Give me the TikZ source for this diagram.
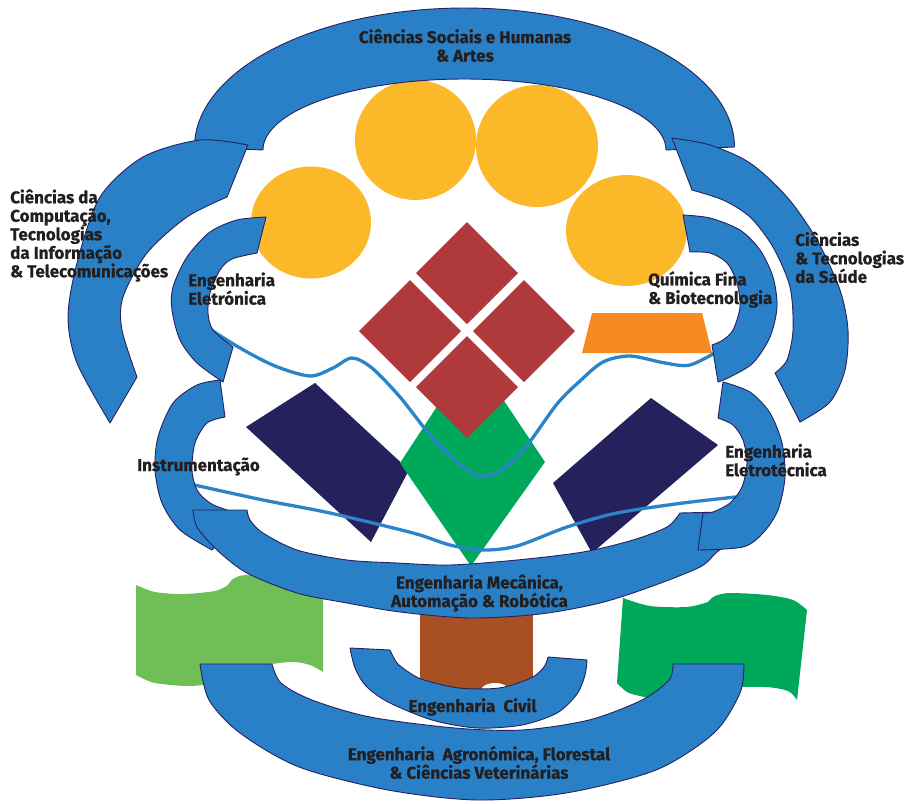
\documentclass[tikz,border=0pt]{standalone}
\usepackage{fontspec}
\setmainfont{Fira Sans}[BoldFeatures={FakeBold=0.6}]

\definecolor{bandblue}{RGB}{41,128,198}
\definecolor{bandline}{RGB}{38,34,98}
\definecolor{sun}{RGB}{251,184,41}
\definecolor{brick}{RGB}{176,57,60}
\definecolor{nightblue}{RGB}{37,33,93}
\definecolor{leaf}{RGB}{0,168,90}
\definecolor{fresh}{RGB}{111,190,86}
\definecolor{amber}{RGB}{246,139,31}
\definecolor{clay}{RGB}{168,79,35}
\definecolor{txt}{RGB}{35,31,32}
\definecolor{wavecol}{RGB}{43,132,199}

\newcommand\lblfont{\fontsize{17}{18.5}\selectfont\bfseries}

\tikzset{
  band/.style={fill=bandblue, draw=bandline, line width=0.9pt, line join=round},
  waveline/.style={draw=wavecol, line width=3.3pt, line cap=round},
  lbl/.style={font=\lblfont, text=txt, inner sep=0pt},
}

\begin{document}
\begin{tikzpicture}[x=1pt, y=-1pt]
\fill[white] (0,0) rectangle (906,804);
\useasboundingbox (0,0) rectangle (906,804);

% suns
\fill[sun] (415.5,140) ellipse [x radius=60.5, y radius=60];
\fill[sun] (537,146) ellipse [x radius=61, y radius=61];
\fill[sun] (311,222.5) ellipse [x radius=60, y radius=56];
\fill[sun] (626.5,230.5) ellipse [x radius=60.5, y radius=55.5];

% central figures
\fill[amber] (592,313) -- (702,313) -- (712,353) -- (582,353) -- cycle;
\fill[nightblue] (315,383) -- (409,470) -- (371,542) -- (246,427) -- cycle;
\fill[nightblue] (651,398) -- (718,445) -- (592,553) -- (553,483) -- cycle;
\fill[leaf] (472,353) -- (545,462) -- (471,566) -- (400,463) -- cycle;
\fill[brick] (467,222) -- (518,273) -- (467,324) -- (416,273) -- cycle;
\fill[brick] (410,280) -- (461,331) -- (410,382) -- (359,331) -- cycle;
\fill[brick] (524,280) -- (575,331) -- (524,382) -- (473,331) -- cycle;
\fill[brick] (467,336) -- (518,387) -- (467,438) -- (416,387) -- cycle;

% waves
\draw[waveline] plot[smooth] coordinates {(205,326) (240,348) (275,366) (310,376) (333,368) (352,358) (372,368) (400,397) (430,435) (455,460) (478,476) (500,471) (525,448) (557,404) (580,381) (603,362) (630,356) (665,363) (690,365) (720,350)};
\draw[waveline] plot[smooth] coordinates {(190,484) (263,500) (330,513) (413,533) (450,545) (483,550) (517,546) (567,527) (617,513) (683,503) (745,496)};

% flags and trunk
\fill[fresh] plot[smooth] coordinates {(136,585) (155,592) (183,594) (215,591) (228,585)}
  -- plot[smooth] coordinates {(228,585) (233,579) (245,575) (280,574) (323,580)}
  -- (323,672)
  -- plot[smooth] coordinates {(323,672) (310,665) (290,662) (250,668) (215,682) (190,686) (155,683) (136,675)}
  -- cycle;
\fill[leaf] plot[smooth] coordinates {(623,598) (650,606) (687,607) (708,602)}
  -- plot[smooth] coordinates {(708,602) (715,596) (730,593) (767,595) (793,600) (807,610)}
  -- (797,700)
  -- plot[smooth] coordinates {(797,700) (788,691) (765,687) (720,688) (690,694) (660,699) (640,696) (627,692) (617,683)}
  -- cycle;
\fill[clay] (420,598) rectangle (533,700);
\fill[white] (495,692) ellipse [x radius=15, y radius=9];

% bands
\filldraw[band] plot[domain=180:360, samples=90] ({464.5+270*cos(\x)},{147+139*sin(\x)})
  -- plot[domain=360:180, samples=90] ({464.5+201.5*cos(\x)},{150+71*sin(\x)}) -- cycle;
\filldraw[band] plot[smooth] coordinates {(248,145) (200,140) (143,157) (100,197) (77,263) (68,317) (77,363) (110,423)}
  -- plot[smooth] coordinates {(137,377) (122,330) (123,297) (147,253) (187,217) (227,197)} -- cycle;
\filldraw[band] plot[smooth] coordinates {(672,138) (710,145) (750,163) (787,197) (817,240) (840,290) (848,330) (845,370) (830,402) (800,422)}
  -- plot[smooth] coordinates {(775,373) (787,360) (793,330) (790,287) (773,247) (750,217) (723,200) (692,190)} -- cycle;
\filldraw[band] plot[smooth] coordinates {(266,217) (237,220) (210,232) (187,257) (173,287) (172,310) (180,340) (197,363) (223,382)}
  -- plot[smooth] coordinates {(233,347) (213,330) (208,313) (210,293) (220,270) (232,259) (257,253)} -- cycle;
\filldraw[band] plot[smooth] coordinates {(683,215) (710,218) (740,230) (760,250) (773,277) (777,307) (770,337) (753,363) (730,377) (718,382)}
  -- plot[smooth] coordinates {(712,345) (723,340) (733,330) (740,307) (737,283) (727,263) (710,253) (690,252)} -- cycle;
\filldraw[band] plot[smooth] coordinates {(220,380) (197,385) (173,403) (158,437) (155,470) (162,503) (180,530) (212,550)}
  -- plot[smooth] coordinates {(245,514) (227,510) (210,503) (197,490) (192,470) (195,443) (207,423) (225,417)} -- cycle;
\filldraw[band] (193,510) -- (247,510)
  -- plot[smooth] coordinates {(247,510) (250,520) (263,533) (297,550) (347,560) (397,563) (450,565) (517,560) (583,552) (633,540) (667,527) (680,513)}
  -- (722,512) -- (735,540)
  -- plot[smooth] coordinates {(735,540) (717,552) (700,567) (650,587) (600,603) (540,614) (470,618) (400,612) (347,603) (297,593) (247,573) (217,550) (197,527) (193,510)}
  -- cycle;
\filldraw[band] plot[smooth] coordinates {(723,382) (750,392) (770,413) (782,443) (785,477) (778,510) (763,533) (743,547) (698,550)}
  -- plot[smooth] coordinates {(703,513) (713,512) (730,503) (742,487) (747,463) (743,440) (733,425) (718,418)} -- cycle;
\filldraw[band] plot[smooth] coordinates {(200,664) (209,700) (240,733) (299,767) (388,790) (477,800) (566,793) (656,770) (714,733) (740,693) (744,664)}
  -- plot[smooth] coordinates {(673,664) (669,680) (642,700) (589,720) (522,730) (455,728) (370,717) (312,700) (281,683) (272,664)} -- cycle;
\filldraw[band] plot[smooth] coordinates {(350,648) (355,668) (366,686) (388,702) (432,720) (477,728) (522,725) (557,713) (577,694) (585,675) (587,660)}
  -- plot[smooth] coordinates {(548,657) (544,667) (531,678) (499,688) (459,688) (424,680) (410,673) (397,663) (390,650)} -- cycle;

% labels
\node[lbl, align=center] (sociais) at (465,45.5) {Ciências Sociais e Humanas\\\& Artes};
\node[lbl, align=left, anchor=west] (computacao) at (10,235.5) {Ciências da\\Computação,\\Tecnologias\\da Informação\\\& Telecomunicações};
\node[lbl, align=left, anchor=west] (eletronica) at (188,288.7) {Engenharia\\Eletrónica};
\node[lbl, align=left, anchor=west] (saude) at (795,257.5) {Ciências\\\& Tecnologias\\da Saúde};
\node[lbl, align=left, anchor=west] (quimica) at (648,289.5) {Química Fina\\\& Biotecnologia};
\node[lbl, anchor=base west] (instrumentacao) at (137,471) {Instrumentação};
\node[lbl, align=left, anchor=west] (eletrotecnica) at (725,460.2) {Engenharia\\Eletrotécnica};
\node[lbl, align=center] (mecanica) at (479.5,593) {Engenharia Mecânica,\\Automação \& Robótica};
\node[lbl, anchor=base] (civil) at (472.5,712) {Engenharia\ \ Civil};
\node[lbl, align=center] (agronomica) at (479,762.5) {Engenharia\ \ Agronómica, Florestal\\\& Ciências Veterinárias};
\end{tikzpicture}
\end{document}
